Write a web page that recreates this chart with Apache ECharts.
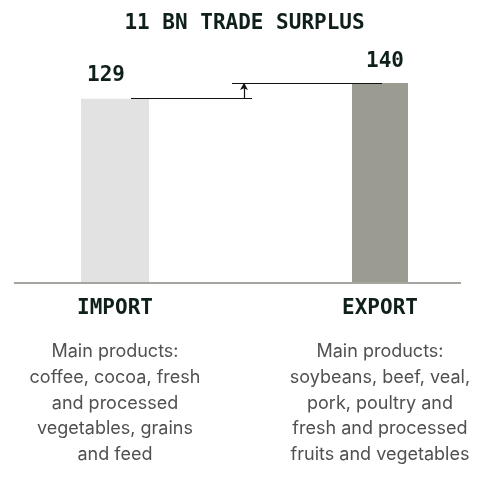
<!DOCTYPE html>
<html>
<head>
<meta charset="utf-8">
<script src="https://cdn.jsdelivr.net/npm/echarts@6/dist/echarts.min.js"></script>
<style>
  html, body { margin: 0; padding: 0; background: #ffffff; }
  #chart { width: 489px; height: 477px; }
</style>
</head>
<body>
<div id="chart"></div>
<script>
// Trade flows, billion
const categories = ['IMPORT', 'EXPORT'];
const tradeValues = [129, 140];

// Main products per flow, one entry per text line
const importProducts = ['Main products:', 'coffee, cocoa, fresh', 'and processed', 'vegetables, grains', 'and feed'];
const exportProducts = ['Main products:', 'soybeans, beef, veal,', 'pork, poultry and', 'fresh and processed', 'fruits and vegetables'];
const productLines = [importProducts, exportProducts];

const MONO = '"DejaVu Sans Mono", monospace';
const INK = '#0f1f1b';

const surplus = tradeValues[1] - tradeValues[0];

// one value per series so each bar can keep its own width
const onlyAt = (i) => categories.map((c, j) => (j === i ? tradeValues[i] : '-'));

const chart = echarts.init(document.getElementById('chart'), null, { renderer: 'canvas' });

chart.setOption({
  animation: false,
  backgroundColor: '#ffffff',
  title: {
    text: surplus + ' BN TRADE SURPLUS',
    left: 'center',
    top: 8,
    textStyle: { fontFamily: MONO, fontWeight: 'bold', fontSize: 21, color: INK }
  },
  grid: { left: 115, right: 109, top: 83, bottom: 194, outerBoundsMode: 'none' },
  xAxis: [
    {
      type: 'category',
      data: categories,
      boundaryGap: false,
      axisLine: { show: false },
      axisTick: { show: false },
      axisLabel: {
        interval: 0,
        margin: 14,
        fontFamily: MONO,
        fontWeight: 'bold',
        fontSize: 21,
        lineHeight: 24,
        color: INK
      }
    },
    {
      type: 'category',
      data: categories,
      boundaryGap: false,
      position: 'bottom',
      offset: 46,
      axisLine: { show: false },
      axisTick: { show: false },
      axisLabel: {
        interval: 0,
        margin: 10,
        fontFamily: 'Inter, sans-serif',
        fontSize: 18,
        lineHeight: 25.7,
        color: '#505050',
        formatter: (v, i) => productLines[i].join('\n')
      }
    }
  ],
  yAxis: { type: 'value', min: 0, max: 140, show: false },
  series: [
    {
      type: 'bar',
      xAxisIndex: 0,
      data: onlyAt(0),
      barWidth: 68,
      clip: false,
      itemStyle: { color: '#e2e2e2' },
      label: {
        show: true,
        position: 'top',
        distance: 13,
        offset: [-9, 0],
        fontFamily: MONO,
        fontWeight: 'bold',
        fontSize: 21,
        color: INK
      },
      markLine: {
        silent: true,
        symbol: 'none',
        label: { show: false },
        lineStyle: { color: '#a3a69e', width: 2, type: 'solid' },
        data: [[{ x: 14, yAxis: 0 }, { x: 461, yAxis: 0 }]]
      }
    },
    {
      type: 'bar',
      xAxisIndex: 1,
      data: onlyAt(1),
      barWidth: 56,
      clip: false,
      itemStyle: { color: '#9b9b92' },
      label: {
        show: true,
        position: 'top',
        distance: 11,
        offset: [5, 0],
        fontFamily: MONO,
        fontWeight: 'bold',
        fontSize: 21,
        color: INK
      },
      markLine: {
        silent: true,
        symbol: 'none',
        label: { show: false },
        lineStyle: { color: '#111111', width: 1.2, type: 'solid' },
        data: [
          [{ x: 131, yAxis: tradeValues[0] }, { x: 252, yAxis: tradeValues[0] }],
          [{ x: 232, yAxis: tradeValues[1] }, { x: 382, yAxis: tradeValues[1] }],
          [
            { x: 244, yAxis: tradeValues[0], symbol: 'none' },
            { x: 244, yAxis: tradeValues[1], symbol: 'arrow', symbolSize: [6, 7] }
          ]
        ]
      }
    }
  ]
});
</script>
</body>
</html>
